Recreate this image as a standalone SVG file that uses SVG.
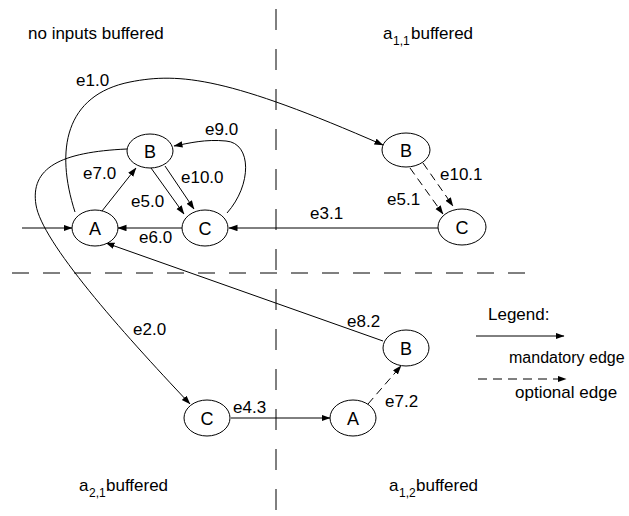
<svg xmlns="http://www.w3.org/2000/svg" width="629" height="516" viewBox="0 0 629 516">
<style>
text{font-family:"Liberation Sans",Arial,sans-serif;font-size:17px;fill:#000}
.node ellipse{fill:#fff;stroke:#000;stroke-width:1}
.node text{font-size:18px;text-anchor:middle}
.e{fill:none;stroke:#000;stroke-width:1;marker-end:url(#ah)}
.d{stroke-dasharray:8,5}
.sep{fill:none;stroke:#000;stroke-width:1}
.sub{font-size:12px}
</style>
<defs>
<marker id="ah" markerUnits="userSpaceOnUse" markerWidth="9" markerHeight="7" refX="8.5" refY="3.2" orient="auto">
<path d="M0,0 L9,3.2 L0,6.4 z" fill="#000"/>
</marker>
</defs>
<rect width="629" height="516" fill="#fff"/>
<g id="separators">
<line class="sep" x1="276" y1="9" x2="276" y2="511" stroke-dasharray="21,19"/>
<line class="sep" x1="12" y1="273" x2="527" y2="273" stroke-dasharray="17,14"/>
</g>
<g id="region-labels">
<text x="28" y="39">no inputs buffered</text>
<text x="383" y="39">a<tspan class="sub" x="393" dy="6">1,1</tspan><tspan x="411" dy="-6">buffered</tspan></text>
<text x="79" y="491">a<tspan class="sub" x="89" dy="6">2,1</tspan><tspan x="106" dy="-6">buffered</tspan></text>
<text x="389" y="491">a<tspan class="sub" x="399" dy="6">1,2</tspan><tspan x="416" dy="-6">buffered</tspan></text>
</g>
<g id="connectors">
<line class="e" x1="22" y1="228" x2="72" y2="228"/>
<line class="e" x1="102" y1="211" x2="136" y2="168"/>
<line class="e" x1="151" y1="168" x2="184" y2="214"/>
<line class="e" x1="165" y1="166" x2="194" y2="209"/>
<line class="e" x1="182" y1="228" x2="118" y2="228"/>
<path class="e" d="M227,213 C252,185 252,143 226,141 C205,139 190,143 174,146"/>
<path class="e" d="M75,212 C55,150 65,95 130,82 C180,72 230,78 383,145"/>
<path class="e" d="M127,149 C60,152 30,168 36,205 C42,242 120,330 190,404"/>
<line class="e" x1="439" y1="228" x2="229" y2="228"/>
<line class="e d" x1="410" y1="168" x2="443" y2="214"/>
<line class="e d" x1="423" y1="163" x2="453" y2="206"/>
<line class="e" x1="383" y1="341" x2="106" y2="243"/>
<line class="e" x1="231" y1="418" x2="330" y2="418"/>
<line class="e d" x1="368" y1="404" x2="401" y2="366"/>
<line class="e" x1="476" y1="336" x2="564" y2="336"/>
<line class="e" x1="478" y1="379" x2="566" y2="379" stroke-dasharray="9,6"/>
</g>
<g id="edge-labels">
<text x="76" y="86">e1.0</text>
<text x="205" y="135">e9.0</text>
<text x="83" y="179">e7.0</text>
<text x="181" y="183">e10.0</text>
<text x="131" y="207">e5.0</text>
<text x="139" y="243">e6.0</text>
<text x="310" y="219">e3.1</text>
<text x="387" y="205">e5.1</text>
<text x="440" y="180">e10.1</text>
<text x="347" y="327">e8.2</text>
<text x="385" y="407">e7.2</text>
<text x="133" y="335">e2.0</text>
<text x="233" y="413">e4.3</text>
</g>
<g id="legend">
<text x="488" y="320">Legend:</text>
<text x="509" y="363" style="font-size:16px">mandatory edge</text>
<text x="515" y="398">optional edge</text>
</g>
<g id="A0" class="node"><ellipse cx="95" cy="228" rx="23" ry="18"/><text x="95" y="234.5">A</text></g>
<g id="B0" class="node"><ellipse cx="150" cy="151" rx="23" ry="17"/><text x="150" y="157.5">B</text></g>
<g id="C0" class="node"><ellipse cx="205" cy="228" rx="23" ry="18"/><text x="205" y="234.5">C</text></g>
<g id="B1" class="node"><ellipse cx="406" cy="150" rx="24" ry="17"/><text x="406" y="156.5">B</text></g>
<g id="C1" class="node"><ellipse cx="462" cy="227" rx="24" ry="18"/><text x="462" y="233.5">C</text></g>
<g id="B2" class="node"><ellipse cx="406" cy="348" rx="23" ry="18"/><text x="406" y="354.5">B</text></g>
<g id="A2" class="node"><ellipse cx="353" cy="418" rx="23" ry="18"/><text x="353" y="424.5">A</text></g>
<g id="C3" class="node"><ellipse cx="207" cy="418" rx="23" ry="18"/><text x="207" y="424.5">C</text></g>
</svg>
